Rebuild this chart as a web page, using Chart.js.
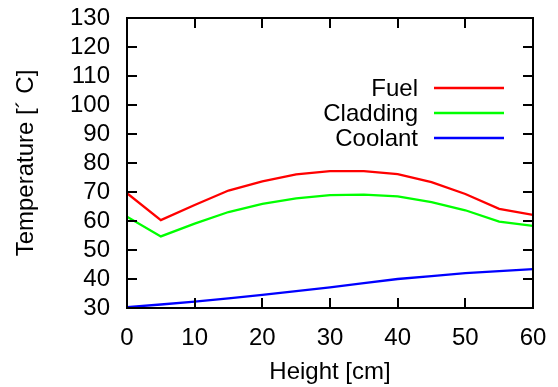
<!DOCTYPE html>
<html>
<head>
<meta charset="utf-8">
<script src="https://cdn.jsdelivr.net/npm/chart.js@4/dist/chart.umd.min.js"></script>
<style>
  html, body { margin: 0; padding: 0; background: #fff; }
  #wrap { width: 558px; height: 387px; position: relative; }
</style>
</head>
<body>
<div id="wrap"><canvas id="c" width="558" height="387"></canvas></div>
<script>
// Axial temperature profiles along the channel height
const heights  = [0, 5, 10, 15, 20, 25, 30, 35, 40, 45, 50, 55, 60];
const fuel     = [69.6, 60.3, 65.5, 70.5, 73.7, 76.1, 77.2, 77.2, 76.2, 73.4, 69.3, 64.2, 62.1];
const cladding = [61.5, 54.7, 59.1, 63.1, 65.9, 67.8, 68.9, 69.1, 68.5, 66.5, 63.7, 59.8, 58.3];
const coolant  = [30.3, 31.2, 32.2, 33.3, 34.5, 35.8, 37.1, 38.6, 40.0, 41.0, 42.0, 42.7, 43.4];

const seriesNames  = ['Fuel', 'Cladding', 'Coolant'];
const seriesColors = ['#ff0000', '#00ff00', '#0000ff'];
const xTicks = [0, 10, 20, 30, 40, 50, 60];
const yTicks = [30, 40, 50, 60, 70, 80, 90, 100, 110, 120, 130];

const FONT = '"Liberation Sans", Arial, Helvetica, sans-serif';
const FONT_SIZE = 24;
const LINE_W = 2.3;

const toPoints = (ys) => heights.map((h, i) => ({ x: h, y: ys[i] }));

// Frame with inward tick marks on all four sides
const framePlugin = {
  id: 'frame',
  afterDatasetsDraw(chart) {
    const { ctx, chartArea: a, scales } = chart;
    const len = 10;
    ctx.save();
    ctx.strokeStyle = '#000';
    ctx.lineWidth = 2;
    ctx.beginPath();
    xTicks.forEach(v => {
      const px = Math.round(scales.x.getPixelForValue(v));
      ctx.moveTo(px, a.bottom); ctx.lineTo(px, a.bottom - len);
      ctx.moveTo(px, a.top);    ctx.lineTo(px, a.top + len);
    });
    yTicks.forEach(v => {
      const py = Math.round(scales.y.getPixelForValue(v));
      ctx.moveTo(a.left, py);  ctx.lineTo(a.left + len, py);
      ctx.moveTo(a.right, py); ctx.lineTo(a.right - len, py);
    });
    ctx.stroke();
    ctx.strokeRect(a.left, a.top, a.right - a.left, a.bottom - a.top);
    ctx.restore();
  }
};

// Key in the upper right: right-aligned names followed by line samples
const keyPlugin = {
  id: 'key',
  afterDraw(chart) {
    const { ctx, chartArea: a } = chart;
    ctx.save();
    ctx.font = FONT_SIZE + 'px ' + FONT;
    ctx.textAlign = 'right';
    ctx.textBaseline = 'middle';
    chart.data.datasets.forEach((ds, i) => {
      const y = a.top + 70 + i * 25;
      ctx.fillStyle = '#000';
      ctx.fillText(ds.label, a.right - 115, y + 1);
      ctx.strokeStyle = ds.borderColor;
      ctx.lineWidth = LINE_W;
      ctx.beginPath();
      ctx.moveTo(a.right - 99, y);
      ctx.lineTo(a.right - 29, y);
      ctx.stroke();
    });
    ctx.restore();
  }
};

new Chart(document.getElementById('c'), {
  type: 'line',
  data: {
    datasets: [fuel, cladding, coolant].map((ys, i) => ({
      label: seriesNames[i],
      data: toPoints(ys),
      borderColor: seriesColors[i],
      backgroundColor: seriesColors[i],
      borderWidth: LINE_W,
      pointRadius: 0,
      tension: 0,
      fill: false
    }))
  },
  options: {
    responsive: false,
    animation: false,
    devicePixelRatio: 1,
    layout: { padding: { top: 18, right: 25, left: 0, bottom: 0 } },
    plugins: { legend: { display: false }, tooltip: { enabled: false } },
    scales: {
      x: {
        type: 'linear',
        min: 0, max: 60,
        afterBuildTicks: (s) => { s.ticks = xTicks.map(v => ({ value: v })); },
        afterFit: (s) => { s.height = 79; s.paddingLeft = 0; s.paddingRight = 0; },
        grid: { display: false, drawTicks: false },
        border: { display: false },
        ticks: { color: '#000', font: { family: FONT, size: FONT_SIZE }, padding: 16, maxRotation: 0, autoSkip: false },
        title: { display: true, text: 'Height [cm]', color: '#000', font: { family: FONT, size: FONT_SIZE }, padding: { top: 2, bottom: 0 } }
      },
      y: {
        type: 'linear',
        min: 30, max: 130,
        afterBuildTicks: (s) => { s.ticks = yTicks.map(v => ({ value: v })); },
        afterFit: (s) => { s.width = 127; s.paddingTop = 0; s.paddingBottom = 0; },
        grid: { display: false, drawTicks: false },
        border: { display: false },
        ticks: { color: '#000', font: { family: FONT, size: FONT_SIZE }, padding: 17, autoSkip: false },
        title: { display: true, text: 'Temperature [´ C]', color: '#000', font: { family: FONT, size: FONT_SIZE }, padding: { top: 12, bottom: 0 } }
      }
    }
  },
  plugins: [framePlugin, keyPlugin]
});
</script>
</body>
</html>
